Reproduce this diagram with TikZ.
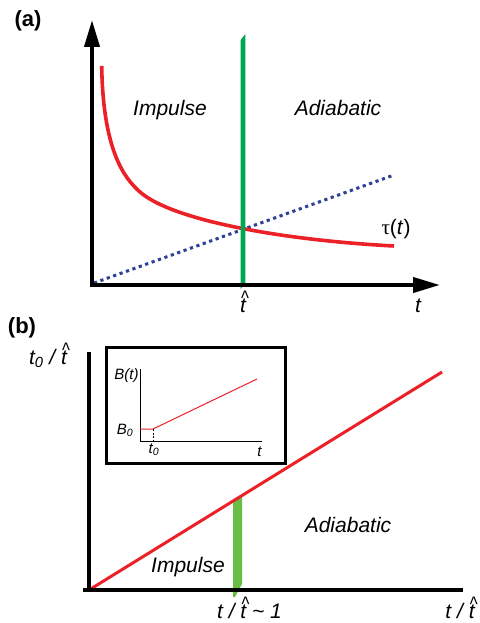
\documentclass[tikz,border=0pt]{standalone}
\usepackage{fontspec}
\setmainfont{Liberation Sans}
\newfontfamily\serifgr{Liberation Serif}
\usetikzlibrary{arrows.meta}
\definecolor{redc}{RGB}{236,32,39}
\definecolor{greena}{RGB}{0,166,81}
\definecolor{greenb}{RGB}{104,189,69}
\definecolor{bluec}{RGB}{46,64,152}
\newcommand\thatt{\makebox[0pt][l]{\hspace{0.04em}\raisebox{0.3em}{\scalebox{0.8}[1]{\textasciicircum}}}t}
\begin{document}
\begin{tikzpicture}[x=1pt,y=-1pt,
  big/.style={font=\fontsize{21}{24}\selectfont\itshape, inner sep=0pt, anchor=base},
  small/.style={font=\fontsize{15}{17}\selectfont\itshape, inner sep=0pt, anchor=base},
  panel/.style={font=\fontsize{22}{24}\selectfont\bfseries, inner sep=0pt},
  axisa/.style={line width=4pt, -{Triangle[length=27pt,width=15pt]}},
  axisb/.style={line width=3.8pt},
  thin/.style={line width=1pt}]
\useasboundingbox (0,0) rectangle (479,623);

% ---------------- panel (a) ----------------
\node[panel] (la) at (28,21) {(a)};
\coordinate (oa) at (92,285);
\coordinate (ya) at (92,20);
\coordinate (xa) at (440,285);
\coordinate (b1) at (94,283);
\coordinate (b2) at (394,175);
\coordinate (r0) at (101.7,66);
\coordinate (r1) at (140,192);
\coordinate (r2) at (394,246);
\draw[bluec, line width=3pt, dash pattern=on 3.2pt off 3.6pt] (b1) -- (b2);
\draw[redc, line width=3.6pt] (r0) .. controls (103,150) and (124,178) .. (r1)
  .. controls (172,220) and (280,240) .. (r2);
\fill[greena] (240.6,40) -- (245.4,34) -- (245.4,283) -- (240.6,289) -- cycle;
\draw[axisa] (oa) -- (ya);
\draw[axisa] ([xshift=-2pt]oa) -- (xa);
\node[big] (imp1) at (170,116) {Impulse};
\node[big] (adi1) at (338,116) {Adiabatic};
\node[big, font=\fontsize{21}{24}\selectfont] (tau) at (396,234) {{\serifgr τ}(\textit{t})};
\node[big] (th1) at (243,312) {\thatt};
\node[big] (t1) at (418,312) {t};

% ---------------- panel (b) ----------------
\node[panel] (lb) at (22,328) {(b)};
\coordinate (ob) at (89,590);
\coordinate (yb) at (89,352);
\coordinate (xb0) at (83,590);
\coordinate (xb) at (463,590);
\coordinate (rb) at (442,372);
\fill[greenb] (233,501) -- (242,495.5) -- (242,584) -- (235,597) -- (233,597) -- cycle;
\draw[redc, line width=3pt] (ob) -- (rb);
\draw[axisb] (89,592) -- (yb);
\draw[axisb] (xb0) -- (xb);
\node[big] (ylab) at (48,364) {t\textsubscript{0} / \thatt};
\node[big] (imp2) at (188,572) {Impulse};
\node[big] (adi2) at (348,532) {Adiabatic};
\node[big] (xl1) at (249.5,618) {t / \thatt\ \textasciitilde\ 1};
\node[big] (xl2) at (460,618) {t / \thatt};

% inset
\draw[line width=3pt] (106,347) rectangle (285,463);
\coordinate (io) at (140,441);
\coordinate (iy) at (140,369);
\coordinate (ix) at (262,441);
\coordinate (i1) at (140,429);
\coordinate (i2) at (153,429);
\coordinate (i3) at (257,379);
\coordinate (i4) at (153,441);
\draw[thin] (iy) -- (io) -- (ix);
\draw[redc, thin] (i1) -- (i2) -- (i3);
\draw[thin, dash pattern=on 2pt off 1.5pt] (i2) -- (i4);
\node[small] (bt) at (126.5,379) {B(t)};
\node[small] (b0) at (125,434) {B\textsubscript{0}};
\node[small] (t0) at (154,453) {t\textsubscript{0}};
\node[small] (ti) at (259.5,456) {t};
\end{tikzpicture}
\end{document}
